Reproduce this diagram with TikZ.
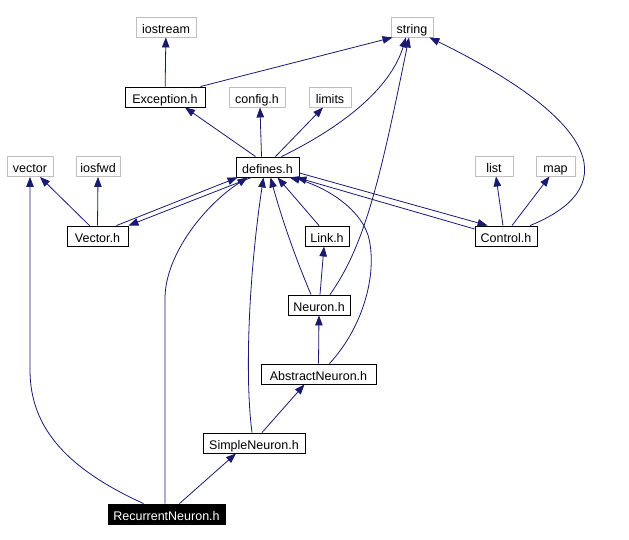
\documentclass[tikz,border=0pt]{standalone}
\usepackage{fontspec}
\setmainfont{Liberation Sans}
\usetikzlibrary{arrows.meta}
\definecolor{edgeblue}{RGB}{25,25,112}
\definecolor{extgray}{RGB}{191,191,191}
\tikzset{
    file/.style={draw, line width=0.9pt, minimum height=20pt, inner sep=0pt, text height=13pt, text depth=0pt, font=\fontsize{12.5}{14}\selectfont},
    extfile/.style={file, draw=extgray},
    mainfile/.style={file, fill=black, text=white},
    dep/.style={edgeblue, line width=0.8pt, -{Triangle[length=10pt,width=7.5pt]}}
}
\begin{document}
\begin{tikzpicture}[x=1pt, y=-1pt]
    \useasboundingbox (0, 0) rectangle (629, 540);

    \node[extfile, minimum width=60pt] (iostream) at (166, 27) {iostream};
    \node[extfile, minimum width=42pt] (string) at (412, 27) {string};
    \node[file, minimum width=80pt] (exception) at (165, 97) {Exception.h};
    \node[extfile, minimum width=56pt] (config) at (257, 97) {config.h};
    \node[extfile, minimum width=42pt] (limits) at (330, 97) {limits};
    \node[extfile, minimum width=46pt] (vector) at (30, 166.5) {vector};
    \node[extfile, minimum width=44pt] (iosfwd) at (98, 166.5) {iosfwd};
    \node[file, minimum width=63pt] (defines) at (267.5, 167) {defines.h};
    \node[extfile, minimum width=38pt] (list) at (494, 166) {list};
    \node[extfile, minimum width=39pt] (map) at (555.5, 166) {map};
    \node[file, minimum width=61pt] (vectorh) at (97.5, 236) {Vector.h};
    \node[file, minimum width=44pt] (link) at (327, 236) {Link.h};
    \node[file, minimum width=62pt] (control) at (506, 236) {Control.h};
    \node[file, minimum width=62pt] (neuron) at (319, 305) {Neuron.h};
    \node[file, minimum width=115pt] (abstract) at (318.5, 374) {AbstractNeuron.h};
    \node[file, minimum width=102pt] (simple) at (254, 443) {SimpleNeuron.h};
    \node[mainfile, minimum width=117pt] (recurrent) at (166.5, 514) {RecurrentNeuron.h};

    \draw[dep] (exception) -- (iostream);
    \draw[dep] ([xshift=-5pt]exception.north east) -- ([xshift=2pt]string.south west);

    \draw[dep] ([xshift=-12pt]defines.north) -- ([xshift=20pt]exception.south);
    \draw[dep] ([xshift=-6pt]defines.north) -- ([xshift=3pt]config.south);
    \draw[dep] ([xshift=8pt]defines.north) -- ([xshift=-7pt]limits.south);
    \draw[dep] ([xshift=14pt]defines.north) .. controls (340, 128) and (390, 90) .. ([xshift=-6pt]string.south);
    \draw[dep] ([yshift=-6pt]defines.east) -- ([xshift=13pt]control.north west);
    \draw[dep] ([xshift=-16pt]defines.south) -- (vectorh.north east);

    \draw[dep] ([xshift=-8pt]vectorh.north) -- ([xshift=10pt]vector.south);
    \draw[dep] (vectorh.north) -- (iosfwd.south);
    \draw[dep] ([xshift=19pt]vectorh.north) -- ([xshift=2pt]defines.south west);

    \draw[dep] ([xshift=-3pt]control.north) -- ([xshift=2pt]list.south);
    \draw[dep] ([xshift=6pt]control.north) -- ([xshift=-6pt]map.south);
    \draw[dep] ([xshift=24pt]control.north) .. controls (618, 190) and (608, 125) .. ([xshift=-4pt]string.south east);
    \draw[dep] ([yshift=7pt]control.west) -- ([xshift=-3pt]defines.south east);

    \draw[dep] ([xshift=-8pt]link.north) -- ([xshift=10pt]defines.south);

    \draw[dep] ([xshift=1pt]neuron.north) -- ([xshift=-3pt]link.south);
    \draw[dep] ([xshift=-8pt]neuron.north) .. controls (290, 245) and (278, 205) .. ([xshift=3pt]defines.south);
    \draw[dep] ([xshift=11pt]neuron.north) .. controls (365, 245) and (380, 180) .. ([xshift=-3pt]string.south);

    \draw[dep] (abstract.north) -- (neuron.south);
    \draw[dep] ([xshift=11pt]abstract.north) .. controls (365, 325) and (378, 270) .. (368, 235)
        .. controls (358, 205) and (320, 185) .. ([xshift=22pt]defines.south);

    \draw[dep] ([xshift=8pt]simple.north) -- ([xshift=-14pt]abstract.south);
    \draw[dep] ([xshift=-2pt]simple.north) .. controls (245, 380) and (248, 280) .. ([xshift=-4pt]defines.south);

    \draw[dep] ([xshift=13pt]recurrent.north) -- ([xshift=-18pt]simple.south);
    \draw[dep] ([xshift=-1.5pt]recurrent.north) -- ++(0, -205) .. controls +(0, -44) and (205, 205) .. ([xshift=-20pt]defines.south);
    \draw[dep] ([xshift=-23pt]recurrent.north) .. controls (70, 470) and (30, 430) .. (30, 370) -- (vector.south);
\end{tikzpicture}
\end{document}
